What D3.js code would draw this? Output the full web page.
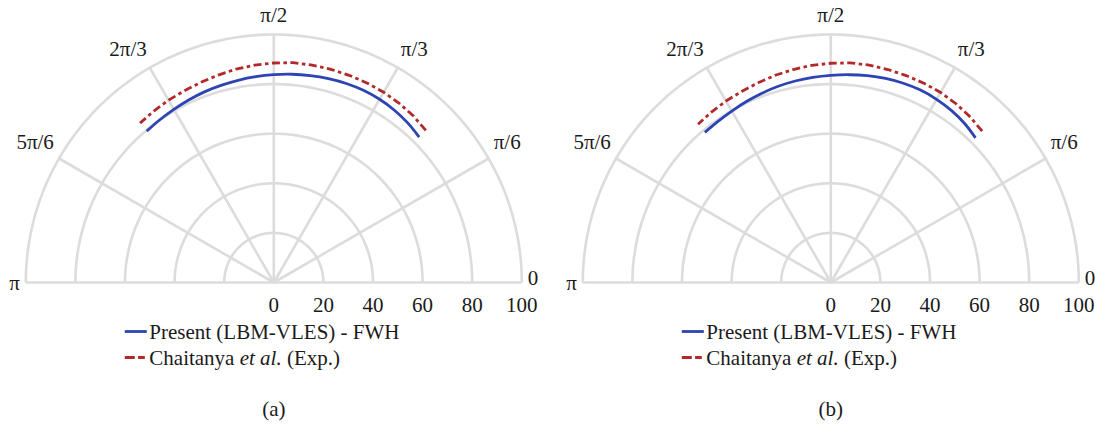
<!DOCTYPE html>
<html><head><meta charset="utf-8">
<script src="https://cdn.jsdelivr.net/npm/d3@7"></script>
<style>body{margin:0;background:#fff}svg{display:block}</style>
</head><body>
<svg id="c" width="1095" height="425"></svg>
<script>
const angles = [45,50,55,60,65,70,75,80,85,90,95,100,105,110,115,120,125,130];
const blueA = [82.9,84.0,84.8,85.3,85.5,85.4,85.1,84.7,84.3,83.8,83.3,82.8,82.3,81.8,81.2,80.6,80.1,79.7];
const redA  = [86.7,87.6,88.2,88.6,88.8,88.9,89.0,89.0,89.0,88.5,88.0,87.4,86.6,85.9,85.3,84.9,84.4,83.9];
const blueB = [82.5,83.8,84.7,85.3,85.6,85.5,85.2,84.7,84.1,83.5,83.0,82.5,81.9,81.2,80.5,79.8,79.3,79.0];
const redB  = [86.3,87.3,88.0,88.5,88.7,88.8,88.9,89.0,88.9,88.4,87.9,87.2,86.5,85.7,85.0,84.5,83.9,83.3];
const ringTicks = [20,40,60,80,100];
const radialLabels = [0,20,40,60,80,100];
const spokeAngles = [0,30,60,90,120,150,180];
const spokeLabels = ["0","π/6","π/3","π/2","2π/3","5π/6","π"];
const seriesNames = ["Present (LBM-VLES) - FWH", "Chaitanya et al. (Exp.)"];
const captions = ["(a)","(b)"];

const svg = d3.select("#c");
const R = 248, FS = 21;
const FF = "'Liberation Serif', 'Times New Roman', Tinos, 'DejaVu Serif', serif";
const r = d3.scaleLinear().domain([0,100]).range([0,R]);
const toRad = d => (90 - d) * Math.PI/180; // d3 radial angle
const gridCol = "#dcdcdc", blue = "#2d44b2", red = "#b3292b";

function txt(g) { return g.append("text").style("font-family", FF).attr("font-size", FS).attr("fill", "#1a1a1a"); }

function panel(cx, cy, bv, rv, cap) {
  const g = svg.append("g").attr("transform", `translate(${cx},${cy})`);
  ringTicks.forEach(v => {
    g.append("path").attr("d", d3.lineRadial().angle(d=>toRad(d)).radius(r(v))(d3.range(0,180.5,1)))
      .attr("fill","none").attr("stroke",gridCol).attr("stroke-width",2.6);
  });
  spokeAngles.forEach(a => {
    g.append("path").attr("d", d3.lineRadial().angle(toRad(a)).radius(d=>r(d))([0,100]))
      .attr("fill","none").attr("stroke",gridCol).attr("stroke-width",2.6);
  });
  spokeAngles.forEach((a,i) => {
    const th = a*Math.PI/180, rr = R + 6;
    const x = rr*Math.cos(th), y = -rr*Math.sin(th);
    const c = Math.cos(th), s = Math.sin(th);
    const anchor = c > 0.1 ? "start" : (c < -0.1 ? "end" : "middle");
    const t = txt(g).attr("x", x).attr("y", y).attr("text-anchor", anchor).text(spokeLabels[i]);
    if (s > 0.1) t.attr("dy", "-0.3em");
    else if (c > 0) t.attr("dy", "0.1em");
    else t.attr("dy","0.35em");
  });
  radialLabels.forEach(v => {
    txt(g).attr("x", r(v)).attr("y", 22).attr("dy","0.35em").attr("text-anchor","middle").text(v);
  });
  const line = d3.lineRadial().angle((d,i)=>toRad(angles[i])).radius(d=>r(d));
  g.append("path").attr("d", line.curve(d3.curveCatmullRom)(bv))
    .attr("fill","none").attr("stroke",blue).attr("stroke-width",2.8);
  g.append("path").attr("d", line.curve(d3.curveLinear)(rv))
    .attr("fill","none").attr("stroke",red).attr("stroke-width",2.8)
    .attr("stroke-dasharray","8,3.5,3.5,3.5");
  const lx = -149, ly1 = 49, ly2 = 75;
  g.append("line").attr("x1",lx).attr("x2",lx+22).attr("y1",ly1).attr("y2",ly1)
    .attr("stroke",blue).attr("stroke-width",2.8);
  txt(g).attr("x",lx+24.5).attr("y",ly1).attr("dy","0.35em").text(seriesNames[0]);
  g.append("line").attr("x1",lx).attr("x2",lx+20).attr("y1",ly2).attr("y2",ly2)
    .attr("stroke",red).attr("stroke-width",2.8).attr("stroke-dasharray","10,3.3,7,3");
  const parts = seriesNames[1].split("et al.");
  const t2 = txt(g).attr("x",lx+24.5).attr("y",ly2).attr("dy","0.35em");
  t2.append("tspan").text(parts[0]);
  t2.append("tspan").attr("font-style","italic").text("et al.");
  t2.append("tspan").text(parts[1]);
  txt(g).attr("x",0).attr("y",126).attr("dy","0.35em").attr("text-anchor","middle").text(cap);
}
panel(273.8, 282.5, blueA, redA, captions[0]);
panel(830.8, 282.5, blueB, redB, captions[1]);
</script>
</body></html>
